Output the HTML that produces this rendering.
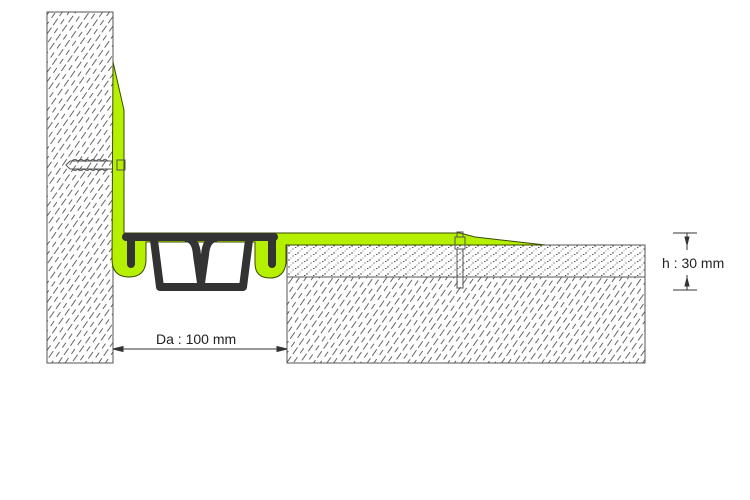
<!DOCTYPE html><html><head><style>body{margin:0;background:#fff}svg{display:block}</style></head><body>
<svg width="750" height="500" viewBox="0 0 750 500" xmlns="http://www.w3.org/2000/svg" font-family="Liberation Sans, sans-serif">
<defs>
<pattern id="h" width="11" height="11" patternUnits="userSpaceOnUse" patternTransform="rotate(-55)">
<line x1="0" y1="3" x2="11" y2="3" stroke="#666" stroke-width="1" stroke-dasharray="7 3"/>
<line x1="4" y1="8.5" x2="15" y2="8.5" stroke="#666" stroke-width="1" stroke-dasharray="6 4"/>
</pattern>
<pattern id="d" width="9" height="7" patternUnits="userSpaceOnUse">
<circle cx="1" cy="1" r="0.7" fill="#333"/><circle cx="5" cy="4" r="0.6" fill="#444"/><rect x="7" y="2" width="1.4" height="0.8" fill="#222"/><circle cx="3" cy="6" r="0.5" fill="#555"/>
</pattern>
</defs>
<rect x="47" y="12" width="66" height="351" fill="url(#h)" stroke="#555" stroke-width="1"/>
<rect x="287" y="277" width="358" height="86" fill="url(#h)" stroke="#555" stroke-width="1"/>
<rect x="287" y="245" width="358" height="32" fill="url(#d)" stroke="#555" stroke-width="1"/>
<g stroke="#555" stroke-width="1" fill="none">
<path d="M70 161 L118 161 M70 169 L118 169 M70 161 L66 165 L70 169"/>
<path d="M72 161 q3 -3 6 0 q3 -3 6 0 q3 -3 6 0 q3 -3 6 0 q3 -3 6 0 q3-3 6 0 M72 169 q3 3 6 0 q3 3 6 0 q3 3 6 0 q3 3 6 0 q3 3 6 0 q3 3 6 0"/>
</g>
<path d="M113 62 L124 110 L124 233 L460 233 L475 237 L545 245 L286 245 L286 263 Q284 278 270 278 Q255 278 255 263 L255 242 L146 242 L146 261 Q145 277 129 277 Q112 277 112 259 Z" fill="#b5f000" stroke="#3a4a00" stroke-width="1"/>
<rect x="117" y="160" width="8" height="10" fill="none" stroke="#555"/>
<g stroke="#555" fill="none" stroke-width="1"><rect x="455" y="237" width="10" height="12"/><rect x="457" y="232" width="6" height="5"/><path d="M457 249 L457 288 L463 288 L463 249"/></g>
<g fill="none" stroke="#333" stroke-width="8" stroke-linejoin="round" stroke-linecap="round">
<path d="M126 237 L274 237"/>
<path d="M131 237 L131 264"/><path d="M272 237 L272 264"/>
<path d="M154 240 L160 287 L243 287 L249 240"/>
<path d="M187 238 Q196 240 197 255 L201 283 M215 238 Q206 240 205 255 L201 283"/>
</g>
<g stroke="#333" stroke-width="1" fill="#333">
<line x1="113" y1="349" x2="287" y2="349"/>
<path d="M113 349 l10 -2.5 v5z M287 349 l-10 -2.5 v5z"/>
<line x1="673" y1="233" x2="697" y2="233"/><line x1="673" y1="290" x2="697" y2="290"/>
<line x1="687" y1="233" x2="687" y2="250"/><line x1="687" y1="275" x2="687" y2="290"/>
<path d="M687 245 l-2 -8 h4z M687 278 l-2 8 h4z"/>
</g>
<text x="156" y="344" font-size="14" fill="#222">Da : 100 mm</text>
<text x="662" y="268" font-size="14" fill="#222">h : 30 mm</text>
</svg>
</body></html>
